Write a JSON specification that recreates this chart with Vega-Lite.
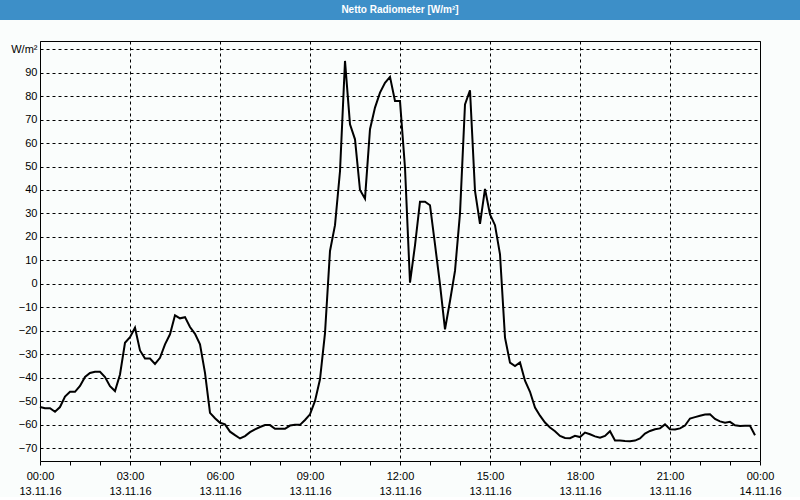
{
  "$schema": "https://vega.github.io/schema/vega-lite/v6.json",
  "background": "#fafdfc",
  "padding": 0,
  "spacing": 20,
  "config": {"view": {"stroke": null}, "font": "Liberation Sans"},
  "datasets": {
    "radiometer": [
      {"minute": 0, "v": -52.5}, {"minute": 10, "v": -53}, {"minute": 20, "v": -53}, {"minute": 30, "v": -54.5},
      {"minute": 40, "v": -52.5}, {"minute": 50, "v": -48}, {"minute": 60, "v": -46}, {"minute": 70, "v": -46},
      {"minute": 80, "v": -43.5}, {"minute": 90, "v": -39.7}, {"minute": 100, "v": -38}, {"minute": 110, "v": -37.5},
      {"minute": 120, "v": -37.5}, {"minute": 130, "v": -39.7}, {"minute": 140, "v": -43.6}, {"minute": 150, "v": -45.7},
      {"minute": 160, "v": -38.6}, {"minute": 170, "v": -25.1}, {"minute": 180, "v": -22.7}, {"minute": 190, "v": -18.7},
      {"minute": 200, "v": -28.4}, {"minute": 210, "v": -31.8}, {"minute": 220, "v": -31.8}, {"minute": 230, "v": -34.1},
      {"minute": 240, "v": -31.5}, {"minute": 250, "v": -25.8}, {"minute": 260, "v": -21.5}, {"minute": 270, "v": -13.4},
      {"minute": 280, "v": -14.7}, {"minute": 290, "v": -14.2}, {"minute": 300, "v": -18.4}, {"minute": 310, "v": -21.3},
      {"minute": 320, "v": -25.8}, {"minute": 330, "v": -37.9}, {"minute": 340, "v": -55}, {"minute": 350, "v": -57.3},
      {"minute": 360, "v": -59.2}, {"minute": 370, "v": -59.9}, {"minute": 380, "v": -63}, {"minute": 390, "v": -64.5},
      {"minute": 400, "v": -65.9}, {"minute": 410, "v": -64.9}, {"minute": 420, "v": -63.2}, {"minute": 430, "v": -62},
      {"minute": 440, "v": -61}, {"minute": 450, "v": -60.2}, {"minute": 460, "v": -60.2}, {"minute": 470, "v": -61.8},
      {"minute": 480, "v": -61.8}, {"minute": 490, "v": -61.8}, {"minute": 500, "v": -60.4}, {"minute": 510, "v": -60.1},
      {"minute": 520, "v": -60.1}, {"minute": 530, "v": -58}, {"minute": 540, "v": -55.6}, {"minute": 550, "v": -49.9},
      {"minute": 560, "v": -40.7}, {"minute": 570, "v": -21}, {"minute": 580, "v": 14}, {"minute": 590, "v": 25},
      {"minute": 600, "v": 48}, {"minute": 610, "v": 95}, {"minute": 620, "v": 68}, {"minute": 630, "v": 61.6},
      {"minute": 640, "v": 40}, {"minute": 650, "v": 36.3}, {"minute": 660, "v": 65.9}, {"minute": 670, "v": 75.1},
      {"minute": 680, "v": 81.5}, {"minute": 690, "v": 85.7}, {"minute": 700, "v": 88.2}, {"minute": 710, "v": 77.9},
      {"minute": 720, "v": 77.9}, {"minute": 730, "v": 49.5}, {"minute": 740, "v": 0.5}, {"minute": 750, "v": 16.4},
      {"minute": 760, "v": 35}, {"minute": 770, "v": 35}, {"minute": 780, "v": 33.5}, {"minute": 790, "v": 16.8},
      {"minute": 800, "v": -0.2}, {"minute": 810, "v": -19.4}, {"minute": 820, "v": -7.3}, {"minute": 830, "v": 5.5},
      {"minute": 840, "v": 30}, {"minute": 850, "v": 76.5}, {"minute": 860, "v": 82.5}, {"minute": 870, "v": 39.6},
      {"minute": 880, "v": 25.6}, {"minute": 890, "v": 40.5}, {"minute": 900, "v": 29.6}, {"minute": 910, "v": 25},
      {"minute": 920, "v": 12.6}, {"minute": 930, "v": -22.9}, {"minute": 940, "v": -33.6}, {"minute": 950, "v": -35},
      {"minute": 960, "v": -33.5}, {"minute": 970, "v": -41.3}, {"minute": 980, "v": -46}, {"minute": 990, "v": -52.7},
      {"minute": 1000, "v": -56.2}, {"minute": 1010, "v": -59.1}, {"minute": 1020, "v": -61.2}, {"minute": 1030, "v": -62.8},
      {"minute": 1040, "v": -64.8}, {"minute": 1050, "v": -65.7}, {"minute": 1060, "v": -65.8}, {"minute": 1070, "v": -64.8},
      {"minute": 1080, "v": -65.3}, {"minute": 1090, "v": -63.4}, {"minute": 1100, "v": -64.1}, {"minute": 1110, "v": -65},
      {"minute": 1120, "v": -65.6}, {"minute": 1130, "v": -64.8}, {"minute": 1140, "v": -62.8}, {"minute": 1150, "v": -66.8},
      {"minute": 1160, "v": -66.8}, {"minute": 1170, "v": -67}, {"minute": 1180, "v": -67.1}, {"minute": 1190, "v": -66.8},
      {"minute": 1200, "v": -65.9}, {"minute": 1210, "v": -63.8}, {"minute": 1220, "v": -62.7}, {"minute": 1230, "v": -62},
      {"minute": 1240, "v": -61.6}, {"minute": 1250, "v": -59.9}, {"minute": 1260, "v": -62}, {"minute": 1270, "v": -62.1},
      {"minute": 1280, "v": -61.6}, {"minute": 1290, "v": -60.4}, {"minute": 1300, "v": -57.4}, {"minute": 1310, "v": -56.8},
      {"minute": 1320, "v": -56.2}, {"minute": 1330, "v": -55.7}, {"minute": 1340, "v": -55.6}, {"minute": 1350, "v": -57.6},
      {"minute": 1360, "v": -58.6}, {"minute": 1370, "v": -59.2}, {"minute": 1380, "v": -58.8}, {"minute": 1390, "v": -60.3},
      {"minute": 1400, "v": -60.6}, {"minute": 1410, "v": -60.5}, {"minute": 1420, "v": -60.5}, {"minute": 1430, "v": -64.5}
    ]
  },
  "vconcat": [
    {
      "width": 800,
      "height": 20,
      "view": {"fill": "#3d8fc8", "stroke": null},
      "data": {"values": [{"title": "Netto Radiometer [W/m²]"}]},
      "mark": {"type": "text", "color": "white", "font": "Liberation Sans", "fontSize": 10, "fontWeight": "bold", "baseline": "middle", "align": "center"},
      "encoding": {"text": {"field": "title", "type": "nominal"}}
    },
    {
      "bounds": "flush",
      "spacing": 0,
      "hconcat": [
        {
          "width": 40,
          "height": 420,
          "view": {"stroke": null},
          "data": {"name": "radiometer"},
          "mark": {"type": "point", "opacity": 0},
          "encoding": {
            "y": {
              "field": "v", "type": "quantitative",
              "scale": {"domain": [-75.5, 103.5], "nice": false, "zero": false},
              "axis": {
                "orient": "right", "title": null, "domain": false, "ticks": false, "grid": false,
                "values": [-70, -60, -50, -40, -30, -20, -10, 0, 10, 20, 30, 40, 50, 60, 70, 80, 90, 100],
                "labelExpr": "datum.value === 100 ? 'W/m²' : datum.label",
                "labelAlign": "right", "labelPadding": -3,
                "labelFontSize": 11, "labelColor": "black", "labelOverlap": false, "labelBound": false
              }
            }
          }
        },
        {
          "width": 720,
          "height": 420,
          "view": {"stroke": "black", "strokeWidth": 1},
          "data": {"name": "radiometer"},
          "encoding": {
            "y": {
              "field": "v", "type": "quantitative",
              "scale": {"domain": [-75.5, 103.5], "nice": false, "zero": false},
              "axis": {
                "title": null, "domain": false, "ticks": false, "labels": false,
                "values": [-70, -60, -50, -40, -30, -20, -10, 0, 10, 20, 30, 40, 50, 60, 70, 80, 90, 100],
                "grid": true, "gridColor": "black", "gridDash": [3, 3], "gridWidth": 1, "gridOpacity": 1
              }
            }
          },
          "layer": [
            {
              "mark": {"type": "line", "opacity": 0},
              "encoding": {
                "x": {
                  "field": "minute", "type": "quantitative",
                  "scale": {"domain": [0, 1440], "nice": false, "zero": false},
                  "axis": {
                    "orient": "bottom", "title": null, "domain": false, "grid": false, "labels": false,
                    "values": [0, 60, 120, 180, 240, 300, 360, 420, 480, 540, 600, 660, 720, 780, 840, 900, 960, 1020, 1080, 1140, 1200, 1260, 1320, 1380, 1440],
                    "ticks": true, "tickSize": 4, "tickColor": "black", "tickWidth": 1
                  }
                }
              }
            },
            {
              "mark": {"type": "line", "color": "black", "strokeWidth": 2},
              "encoding": {
                "x": {
                  "field": "minute", "type": "quantitative",
                  "axis": {
                    "orient": "bottom", "title": null, "domain": false, "ticks": false,
                    "values": [0, 180, 360, 540, 720, 900, 1080, 1260, 1440],
                    "grid": true, "gridColor": "black", "gridDash": [3, 3], "gridWidth": 1, "gridOpacity": 1,
                    "labelExpr": "[(datum.value / 60 % 24 < 10 ? '0' : '') + (datum.value / 60 % 24) + ':00', datum.value < 1440 ? '13.11.16' : '14.11.16']",
                    "labelPadding": 9, "labelLineHeight": 15,
                    "labelOverlap": false, "labelFlush": false, "labelBound": false,
                    "labelFontSize": 11, "labelColor": "black"
                  }
                }
              }
            }
          ],
          "resolve": {"axis": {"x": "independent"}}
        }
      ]
    }
  ]
}
